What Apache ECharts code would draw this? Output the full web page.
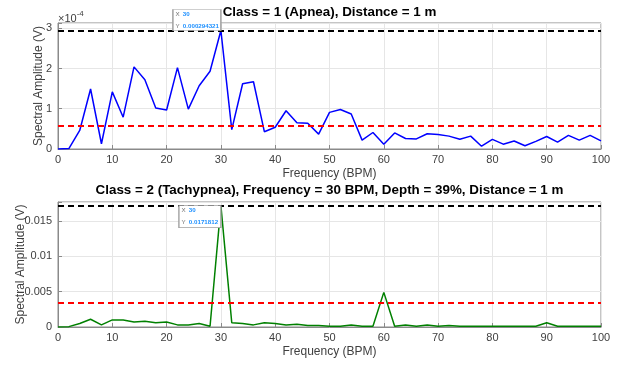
<!DOCTYPE html>
<html>
<head>
<meta charset="utf-8">
<script src="https://cdn.jsdelivr.net/npm/echarts@6/dist/echarts.min.js"></script>
<style>
  html, body { margin: 0; padding: 0; background: #fff; }
  #chart { width: 623px; height: 367px; }
</style>
</head>
<body>
<div id="chart"></div>
<script>
// frequency bins (BPM)
const freqs = [0, 2, 4, 6, 8, 10, 12, 14, 16, 18, 20, 22, 24, 26, 28, 30, 32, 34, 36, 38, 40,
  42, 44, 46, 48, 50, 52, 54, 56, 58, 60, 62, 64, 66, 68, 70, 72, 74, 76, 78, 80,
  82, 84, 86, 88, 90, 92, 94, 96, 98, 100];

// class 1 (apnea) spectrum, volts
const apneaAmp = [0, 0.000001, 0.000046, 0.000149, 0.000013, 0.000142, 0.000079, 0.000204, 0.000172,
  0.000102, 0.000097, 0.000202, 0.000099, 0.000157, 0.000193, 0.000294321, 0.000048, 0.000162,
  0.000167, 0.000043, 0.000054, 0.000095, 0.000065, 0.000064, 0.000037, 0.000091, 0.000098,
  0.000087, 0.000022, 0.000041, 0.000012, 0.000040, 0.000026, 0.000025, 0.000038, 0.000036,
  0.000032, 0.000024, 0.000032, 0.000007, 0.000024, 0.000012, 0.000020, 0.000008, 0.000019,
  0.000031, 0.000017, 0.000034, 0.000022, 0.000034, 0.000020];

// class 2 (tachypnea) spectrum, volts
const tachyAmp = [0, 0.00005, 0.0005, 0.0011, 0.0003, 0.0010, 0.0010, 0.0007, 0.0008, 0.0006,
  0.0007, 0.0003, 0.0003, 0.0005, 0.0001, 0.0171812, 0.0006, 0.0005, 0.0003, 0.0006, 0.0005,
  0.0003, 0.0004, 0.0002, 0.0002, 0.0001, 0.0001, 0.0003, 0.0001, 0.0001, 0.0049, 0.0001,
  0.0003, 0.0001, 0.0003, 0.0001, 0.0002, 0.0001, 0.0001, 0.0001, 0.0001, 0.0001, 0.0001,
  0.0001, 0.0001, 0.0006, 0.0001, 0.0001, 0.0001, 0.0001, 0.0001];

// dashed reference levels (peak and threshold)
const apneaLevels = [0.000294321, 0.0000589];
const tachyLevels = [0.0171812, 0.00344];

const xTicks = [0, 10, 20, 30, 40, 50, 60, 70, 80, 90, 100];

const titles = [
  "Class = 1 (Apnea), Distance = 1 m",
  "Class = 2 (Tachypnea), Frequency = 30 BPM, Depth = 39%, Distance = 1 m"
];

const font = "Liberation Sans, Arial, sans-serif";
const frame = "#8a8a8a";
const textCol = "#404040";

const chart = echarts.init(document.getElementById("chart"));

const xAxisBase = (gridIndex) => ({
  type: "value",
  gridIndex,
  min: xTicks[0],
  max: xTicks[xTicks.length - 1],
  interval: 10,
  name: "Frequency (BPM)",
  nameLocation: "middle",
  nameGap: 19,
  nameMoveOverlap: false,
  nameTextStyle: { fontFamily: font, fontSize: 12, color: textCol },
  axisLine: { lineStyle: { color: frame, width: 1 } },
  axisTick: { inside: true, length: 4, lineStyle: { color: frame } },
  axisLabel: { fontFamily: font, fontSize: 11, color: textCol, margin: 5 },
  splitLine: { show: true, lineStyle: { color: "#e6e6e6" } }
});

const levelLines = (levels) => ({
  silent: true,
  symbol: "none",
  label: { show: false },
  data: [
    [{ coord: [0, levels[0]], lineStyle: { color: "#000" } }, { coord: [100, levels[0]] }],
    [{ coord: [0, levels[1]], lineStyle: { color: "#ff0000" } }, { coord: [100, levels[1]] }]
  ],
  lineStyle: { type: [6, 4], width: 2 }
});

const tip = (value, offset, size) => ({
  symbol: "rect",
  symbolSize: size,
  symbolOffset: offset,
  silent: true,
  data: [{ coord: [30, value] }],
  itemStyle: { color: "#fff", borderColor: "#a0a0a0", borderWidth: 1 },
  label: {
    show: true,
    position: "inside",
    align: "left",
    offset: [-size[0] / 2 + 2.5, 0],
    formatter: "{l|X} {v|30}\n{l|Y} {v|" + value + "}",
    rich: {
      l: { fontFamily: font, fontSize: 6.2, color: "#707070", lineHeight: 9 },
      v: { fontFamily: font, fontSize: 6.2, color: "#1e90ff", fontWeight: "bold", lineHeight: 9 }
    }
  }
});

const yAxisBase = (gridIndex, max, interval, gap, fmt) => ({
  type: "value",
  gridIndex,
  min: 0,
  max,
  interval,
  name: "Spectral Amplitude (V)",
  nameLocation: "middle",
  nameGap: gap,
  nameMoveOverlap: false,
  nameTextStyle: { fontFamily: font, fontSize: 12, color: textCol },
  axisLine: { show: true, lineStyle: { color: frame } },
  axisTick: { show: true, inside: true, length: 4, lineStyle: { color: frame } },
  axisLabel: { fontFamily: font, fontSize: 11, color: textCol, margin: 6, formatter: fmt },
  splitLine: { show: true, lineStyle: { color: "#e6e6e6" } }
});

chart.setOption({
  animation: false,
  grid: [
    { left: 58, right: 22, top: 23, height: 126, outerBoundsMode: "none", containLabel: false,
      show: true, borderColor: frame, borderWidth: 1, backgroundColor: "#fff" },
    { left: 58, right: 22, top: 202, height: 125, outerBoundsMode: "none", containLabel: false,
      show: true, borderColor: frame, borderWidth: 1, backgroundColor: "#fff" }
  ],
  xAxis: [xAxisBase(0), xAxisBase(1)],
  yAxis: [
    yAxisBase(0, 0.000313, 0.0001, 13, (v) => {
      const k = v / 1e-4;
      return Math.abs(k - Math.round(k)) < 1e-6 ? String(Math.round(k)) : "";
    }),
    yAxisBase(1, 0.0177, 0.005, 31, (v) => {
      const k = v / 0.005;
      return Math.abs(k - Math.round(k)) < 1e-6 ? String(+v.toFixed(3)) : "";
    })
  ],
  graphic: [
    { type: "text", x: 329.5, y: 6, style: { text: titles[0], font: "bold 13.4px " + font, fill: "#000", textAlign: "center" } },
    { type: "text", x: 329.5, y: 184, style: { text: titles[1], font: "bold 13.4px " + font, fill: "#000", textAlign: "center" } },
    {
      type: "text", x: 58, y: 10,
      style: {
        text: "{a|\u00d710}{b|-4}",
        rich: {
          a: { fontFamily: font, fontSize: 11, fill: textCol, verticalAlign: "bottom" },
          b: { fontFamily: font, fontSize: 8, fill: textCol, verticalAlign: "top", padding: [0, 0, 6, 0] }
        }
      }
    }
  ],
  series: [
    {
      type: "line",
      xAxisIndex: 0,
      yAxisIndex: 0,
      data: freqs.map((f, i) => [f, apneaAmp[i]]),
      showSymbol: false,
      lineStyle: { color: "#0000ff", width: 1.5 },
      z: 3,
      markLine: levelLines(apneaLevels),
      markPoint: tip(apneaAmp[15], [-24, -10.5], [48, 21])
    },
    {
      type: "line",
      xAxisIndex: 1,
      yAxisIndex: 1,
      data: freqs.map((f, i) => [f, tachyAmp[i]]),
      showSymbol: false,
      lineStyle: { color: "#008000", width: 1.5 },
      z: 3,
      markLine: levelLines(tachyLevels),
      markPoint: tip(tachyAmp[15], [-21, 11], [42, 22])
    }
  ]
});
</script>
</body>
</html>
